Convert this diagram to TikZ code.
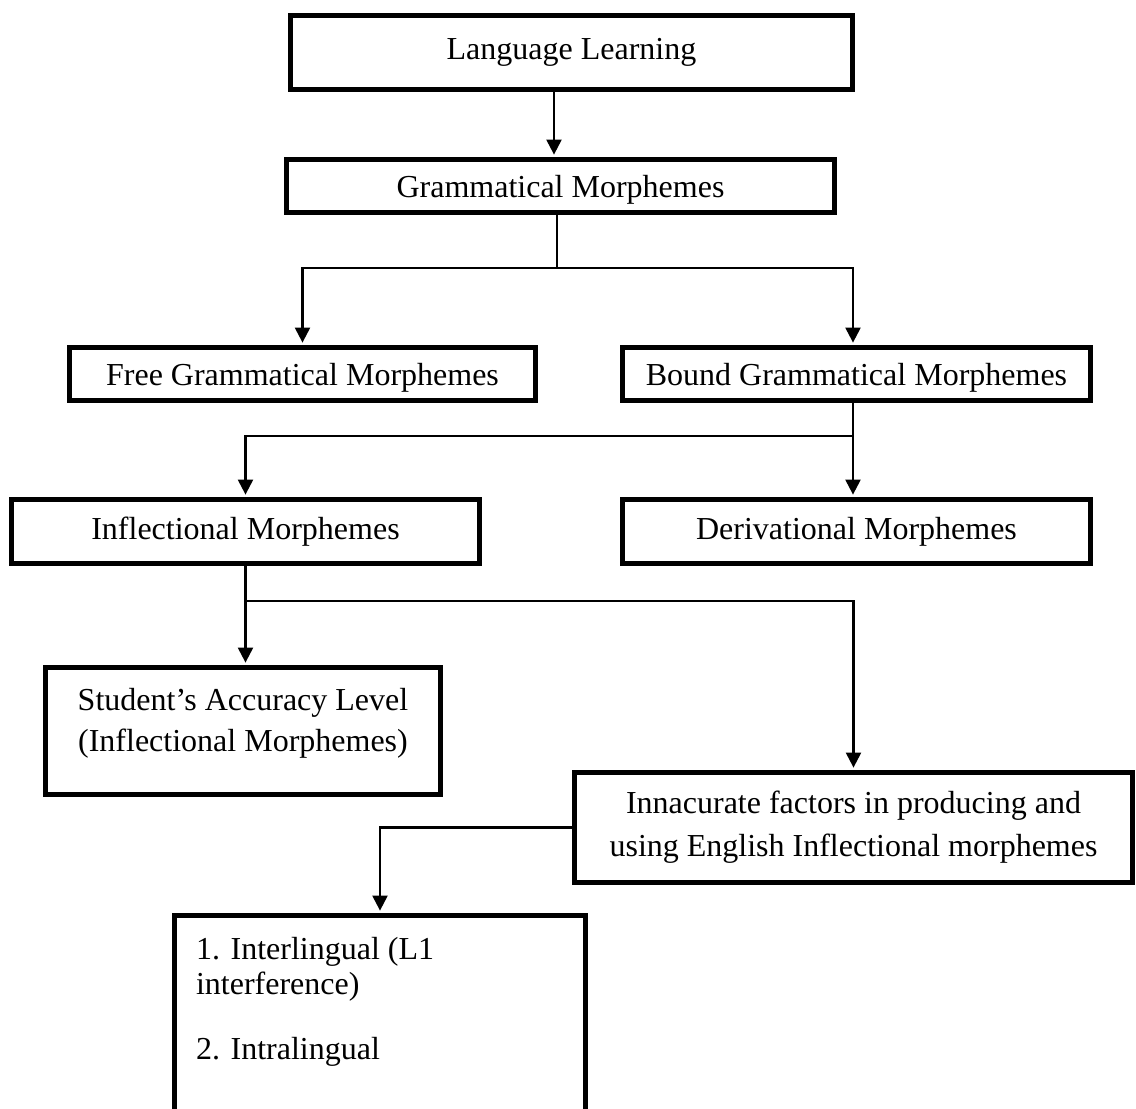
\documentclass[tikz,border=0pt]{standalone}
\usepackage{fontspec}
\setmainfont{Liberation Serif}
\usetikzlibrary{arrows.meta,positioning}
\tikzstyle{box} = [draw, rectangle, line width=2.5pt, align=center]
\tikzstyle{clipped} = [text depth=0pt]
\tikzstyle{link} = [line width=1.1pt]
\tikzstyle{arrow} = [line width=1.1pt,-{Triangle[length=7.5pt,width=7.5pt]},shorten >=1.2pt]
\newcommand{\toptext}[3]{\parbox[c][#1][t]{#2}{#3}}

\begin{document}
\begin{tikzpicture}[x=0.5pt, y=-0.5pt, font=\fontsize{16}{20.5}\selectfont]
\useasboundingbox (0,0) rectangle (1136,1109);
\clip (0,0) rectangle (1136,1109);

% Top levels
\node[box, minimum width=281pt, minimum height=37pt] (lang) at (571.5,52.5) {Language Learning};
\node[box, clipped, minimum width=274pt, minimum height=26.5pt] (gram) at (560.5,186) {Grammatical Morphemes};

% Free / bound
\node[box, clipped, minimum width=233pt, minimum height=26.5pt] (free) at (302.5,374) {Free Grammatical Morphemes};
\node[box, clipped, minimum width=234pt, minimum height=26.5pt] (bound) at (856.5,374) {Bound Grammatical Morphemes};

% Inflectional / derivational
\node[box, minimum width=234pt, minimum height=32pt] (infl) at (245.5,531.5) {Inflectional Morphemes};
\node[box, minimum width=234pt, minimum height=32pt] (deriv) at (856.5,531.5) {Derivational Morphemes};

% Accuracy and factors
\node[box, inner xsep=0pt, inner ysep=10.25pt] (student) at (243,731)
  {\toptext{43pt}{197.5pt}{\centering Student’s Accuracy Level\\(Inflectional Morphemes)}};
\node[box, minimum width=279pt, minimum height=55pt] (inacc) at (853.5,827.5)
  {Innacurate factors in producing and\\[1pt]using English Inflectional morphemes};
\node[box, inner sep=10.75pt] (inter) at (380,1031.5)
  {\toptext{94.5pt}{184pt}{\fontsize{16}{17.5}\selectfont\raggedright
   1. Interlingual (L1\\interference)\\[15pt]2. Intralingual}};

% Connectors
\coordinate (langdrop) at (554,0);
\coordinate (gramsplit) at (557,268);
\coordinate (boundsplit) at (853,436);
\coordinate (inflsplit) at (245.5,601);
\draw[arrow] (lang.south -| langdrop) -- (gram.north -| langdrop);
\draw[link] (gram.south -| gramsplit) -- (gramsplit);
\draw[arrow] (gramsplit) -| (free.north);
\draw[arrow] (gramsplit) -| (bound.north -| boundsplit);
\draw[arrow] (bound.south -| boundsplit) -- (deriv.north -| boundsplit);
\draw[arrow] (boundsplit) -| (infl.north);
\draw[arrow] (infl.south) -- (student.north -| infl.south);
\draw[arrow] (inflsplit) -| (inacc.north);
\draw[arrow] (inacc.west) -| (inter.north);
\end{tikzpicture}
\end{document}
